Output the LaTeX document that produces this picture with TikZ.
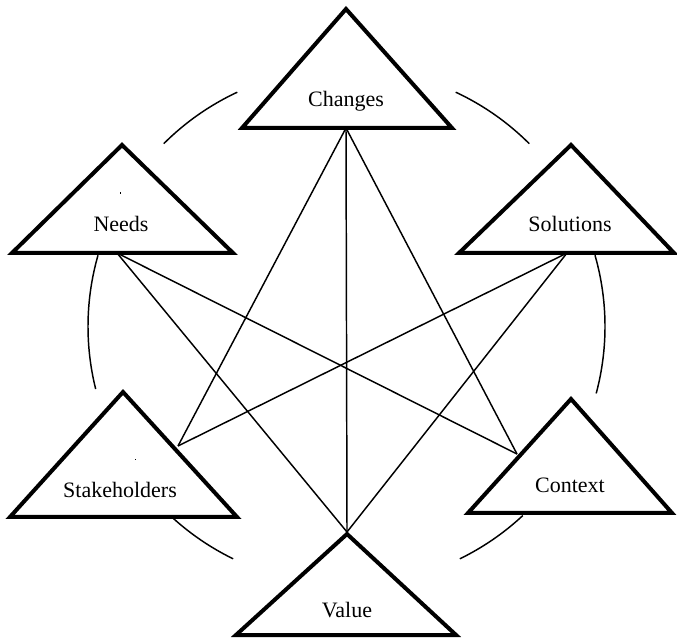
\documentclass[tikz,border=0pt]{standalone}
\usepackage{fontspec}
\setmainfont{Liberation Serif}
\usetikzlibrary{calc}
\begin{document}
\begin{tikzpicture}[x=0.75pt,y=0.75pt,
  tri/.style={draw=black,fill=white,line width=3pt,line join=miter},
  ring/.style={draw=black,line width=1.1pt},
  link/.style={draw=black,line width=1.1pt},
  lbl/.style={anchor=base,inner sep=0pt,font=\fontsize{16.5}{20}\selectfont},
  speck/.style={fill=black}]
\useasboundingbox (0,0) rectangle (677,638);

% circle segments around the ring of triangles
\coordinate (ctr) at (346.5,311.5);
\foreach \a/\b in {115/135, 45/65, 164/194, -15/16, 228/244, 296/313}
  \draw[ring] ($(ctr)+(\a:258.5)$) arc[start angle=\a, end angle=\b, radius=258.5];

% triangles
\draw[tri] (346,629) -- (452,510) -- (242,510) -- cycle;
\draw[tri] (122,493) -- (233,385) -- (12,385) -- cycle;
\draw[tri] (571,493) -- (674,385) -- (459,385) -- cycle;
\draw[tri] (123,246) -- (237,121) -- (10,121) -- cycle;
\draw[tri] (571,239) -- (672,125) -- (468,125) -- cycle;
\draw[tri] (347,104) -- (456,3) -- (236,3) -- cycle;

% labels
\node[lbl] (changes) at (346,531) {Changes};
\node[lbl] (needs) at (121,406) {Needs};
\node[lbl] (solutions) at (570,406) {Solutions};
\node[lbl] (stake) at (120,140) {Stakeholders};
\node[lbl] (context) at (570,145) {Context};
\node[lbl] (value) at (347,21) {Value};

% small marks
\fill[speck] (119.5,444) rectangle (121,445.5);
\fill[speck] (134.5,177.5) rectangle (136,179);

% connector end points on the triangles
\coordinate (c0) at (346,510);
\coordinate (n0) at (117,385);
\coordinate (s0) at (567,385);
\coordinate (k0) at (178,192);
\coordinate (x0) at (517,184);
\coordinate (v0) at (347,106);

\draw[link] (c0) -- (k0);
\draw[link] (c0) -- (v0);
\draw[link] (c0) -- (x0);
\draw[link] (n0) -- (x0);
\draw[link] (n0) -- (v0);
\draw[link] (s0) -- (k0);
\draw[link] (s0) -- (v0);
\end{tikzpicture}
\end{document}
